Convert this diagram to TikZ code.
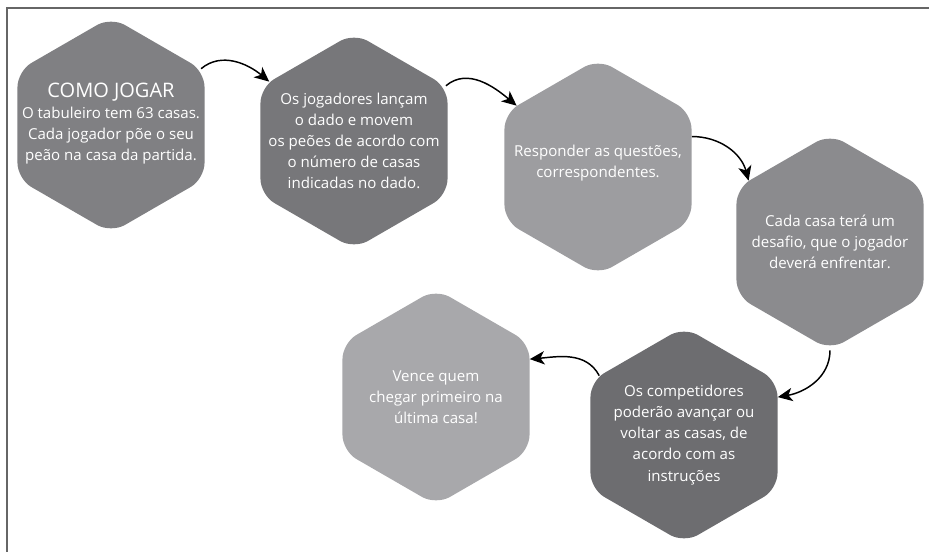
\documentclass[tikz,border=0pt]{standalone}
\usepackage{fontspec}
\setmainfont{Open Sans}
\usetikzlibrary{shapes.geometric,arrows.meta}

\definecolor{cinzaA}{RGB}{128,128,131}
\definecolor{cinzaB}{RGB}{119,119,122}
\definecolor{cinzaC}{RGB}{157,157,160}
\definecolor{cinzaD}{RGB}{139,139,142}
\definecolor{cinzaE}{RGB}{109,109,112}
\definecolor{cinzaF}{RGB}{168,168,171}

\begin{document}
\begin{tikzpicture}[x=0.75pt, y=0.75pt,
    casa/.style={regular polygon, regular polygon sides=6, shape border rotate=30,
      minimum size=162pt, inner sep=0pt, rounded corners=12pt},
    texto/.style={text=white, align=center, inner sep=0pt,
      font=\fontsize{11.3}{15.8}\selectfont},
    seta/.style={-{Stealth[length=11pt,width=10pt,inset=3pt]}, line width=1.1pt}]
    \useasboundingbox (0,0) rectangle (929,-552);
    % moldura
    \draw[line width=1.5pt, black!60] (7,-552) |- (929,-8.5);
    % casas
    \node[casa, fill=cinzaA] (h1) at (111,-125) {};
    \node[casa, fill=cinzaB] (h2) at (354,-141) {};
    \node[casa, fill=cinzaC] (h3) at (598,-167) {};
    \node[casa, fill=cinzaD] (h4) at (830,-242) {};
    \node[casa, fill=cinzaE] (h5) at (684,-435) {};
    \node[casa, fill=cinzaF] (h6) at (436,-397) {};
    % textos
    \node[texto] (t1) at ([yshift=1pt]h1) {{\fontsize{15}{15}\selectfont COMO JOGAR}\\O tabuleiro tem 63 casas.\\Cada jogador põe o seu\\peão na casa da partida.};
    \node[texto] (t2) at (h2) {Os jogadores lançam\\o dado e movem\\os peões de acordo com\\o número de casas\\indicadas no dado.};
    \node[texto] (t3) at ([yshift=3pt]h3) {Responder as questões,\\correspondentes.};
    \node[texto] (t4) at (h4) {Cada casa terá um\\desafio, que o jogador\\deverá enfrentar.};
    \node[texto] (t5) at (h5) {Os competidores\\poderão avançar ou\\voltar as casas, de\\acordo com as\\instruções};
    \node[texto] (t6) at (h6) {Vence quem\\chegar primeiro na\\última casa!};
    % setas
    \draw[seta] (h1.32) to[out=40, in=140] (h2.145);
    \draw[seta] (h2.31) to[out=40, in=140] (h3.143);
    \draw[seta] (h3.18) to[out=0, in=105] (h4.143);
    \draw[seta] (h4.south) to[out=-90, in=10] (h5.22);
    \draw[seta] (h5.145) to[out=118, in=5] (h6.22);
\end{tikzpicture}
\end{document}
